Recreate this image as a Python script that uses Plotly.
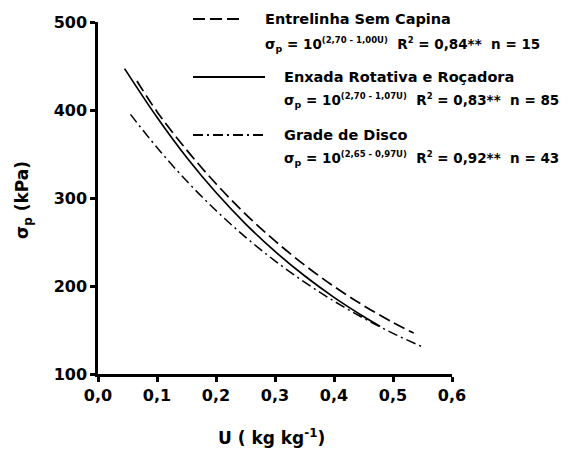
import plotly.graph_objects as go

# Data (U in kg/kg, sigma_p in kPa)
u_esc = [0.066, 0.10, 0.15, 0.20, 0.25, 0.30, 0.35, 0.40, 0.45, 0.50, 0.535]
s_esc = [433.0, 398.1, 354.8, 316.2, 281.8, 251.2, 223.9, 199.5, 177.8, 158.5, 146.6]

u_err = [0.045, 0.10, 0.15, 0.20, 0.25, 0.30, 0.35, 0.40, 0.45, 0.478]
s_err = [447.0, 391.7, 346.3, 306.2, 270.7, 239.3, 211.6, 187.1, 165.4, 154.3]

u_gd = [0.055, 0.10, 0.15, 0.20, 0.25, 0.30, 0.35, 0.40, 0.45, 0.50, 0.55]
s_gd = [395.0, 357.3, 319.5, 285.8, 255.6, 228.6, 204.4, 182.8, 163.5, 146.2, 130.8]

names = ["Entrelinha Sem Capina", "Enxada Rotativa e Roçadora", "Grade de Disco"]
coefs = ["(2,70 - 1,00U)", "(2,70 - 1,07U)", "(2,65 - 0,97U)"]
r2 = ["0,84", "0,83", "0,92"]
ns = ["15", "85", "43"]

SUP = '<sup><span style="font-size:8.5px">{}</span></sup>'
eqs = ["σ<sub>p</sub> = 10" + SUP.format(coefs[i]) + "&nbsp;&nbsp;R" + SUP.format("2")
       + " = " + r2[i] + "**&nbsp;&nbsp;n = " + ns[i] for i in range(3)]

FONT = "DejaVu Sans"
dash_long = "12px,5px"
dash_dot = "10px,4px,2px,4px"

fig = go.Figure()
fig.add_trace(go.Scatter(x=u_esc, y=s_esc, mode="lines", line=dict(color="black", width=1.7, dash=dash_long, shape="spline"), showlegend=False))
fig.add_trace(go.Scatter(x=u_err, y=s_err, mode="lines", line=dict(color="black", width=1.7, shape="spline"), showlegend=False))
fig.add_trace(go.Scatter(x=u_gd, y=s_gd, mode="lines", line=dict(color="black", width=1.5, dash=dash_dot, shape="spline"), showlegend=False))

L, R, T, B = 98, 116, 22, 81
W, H = 568, 455
pw, ph = W - L - R, H - T - B

def px(x):
    return (x - L) / pw

def py(y):
    return 1 - (y - T) / ph

# legend samples
samples = [(193, 243, 19, dash_long), (193, 265, 77, "solid"), (193, 265, 135, dash_dot)]
shapes = []
for x0, x1, yy, d in samples:
    shapes.append(dict(type="line", xref="paper", yref="paper", x0=px(x0), x1=px(x1), y0=py(yy), y1=py(yy),
                       line=dict(color="black", width=1.8, dash=d)))

annots = []
name_pos = [(263, 19), (282, 77), (282, 135)]
eq_pos = [(263, 45), (282, 101), (282, 158)]
for i in range(3):
    annots.append(dict(text=names[i], xref="paper", yref="paper", x=px(name_pos[i][0]), y=py(name_pos[i][1]),
                       xanchor="left", yanchor="middle", showarrow=False,
                       font=dict(family=FONT, size=14.5, color="black", weight="bold")))
    annots.append(dict(text=eqs[i], xref="paper", yref="paper", x=px(eq_pos[i][0]), y=py(eq_pos[i][1]),
                       xanchor="left", yanchor="middle", showarrow=False,
                       font=dict(family=FONT, size=13.5, color="black", weight="bold")))

# axis titles
annots.append(dict(text="σ<sub>p</sub> (kPa)", xref="paper", yref="paper", x=px(23), y=py(200), textangle=-90,
                   xanchor="center", yanchor="middle", showarrow=False,
                   font=dict(family=FONT, size=17, color="black", weight="bold")))
annots.append(dict(text="U ( kg kg<sup>-1</sup>)", xref="paper", yref="paper", x=px(271), y=py(437),
                   xanchor="center", yanchor="middle", showarrow=False,
                   font=dict(family=FONT, size=17, color="black", weight="bold")))

axis_common = dict(showline=True, linecolor="black", linewidth=2.5, ticks="outside", ticklen=5, tickwidth=2.5,
                   tickcolor="black", showgrid=False, zeroline=False,
                   tickfont=dict(family=FONT, size=16, color="black", weight="bold"))

fig.update_layout(
    width=W, height=H, margin=dict(l=L, r=R, t=T, b=B),
    paper_bgcolor="white", plot_bgcolor="white",
    separators=",.",
    xaxis=dict(range=[0, 0.6], tickvals=[0, 0.1, 0.2, 0.3, 0.4, 0.5, 0.6], tickformat=".1f", **axis_common),
    yaxis=dict(range=[100, 500], tickvals=[100, 200, 300, 400, 500], **axis_common),
    shapes=shapes, annotations=annots,
)
fig.write_html("out.html")
